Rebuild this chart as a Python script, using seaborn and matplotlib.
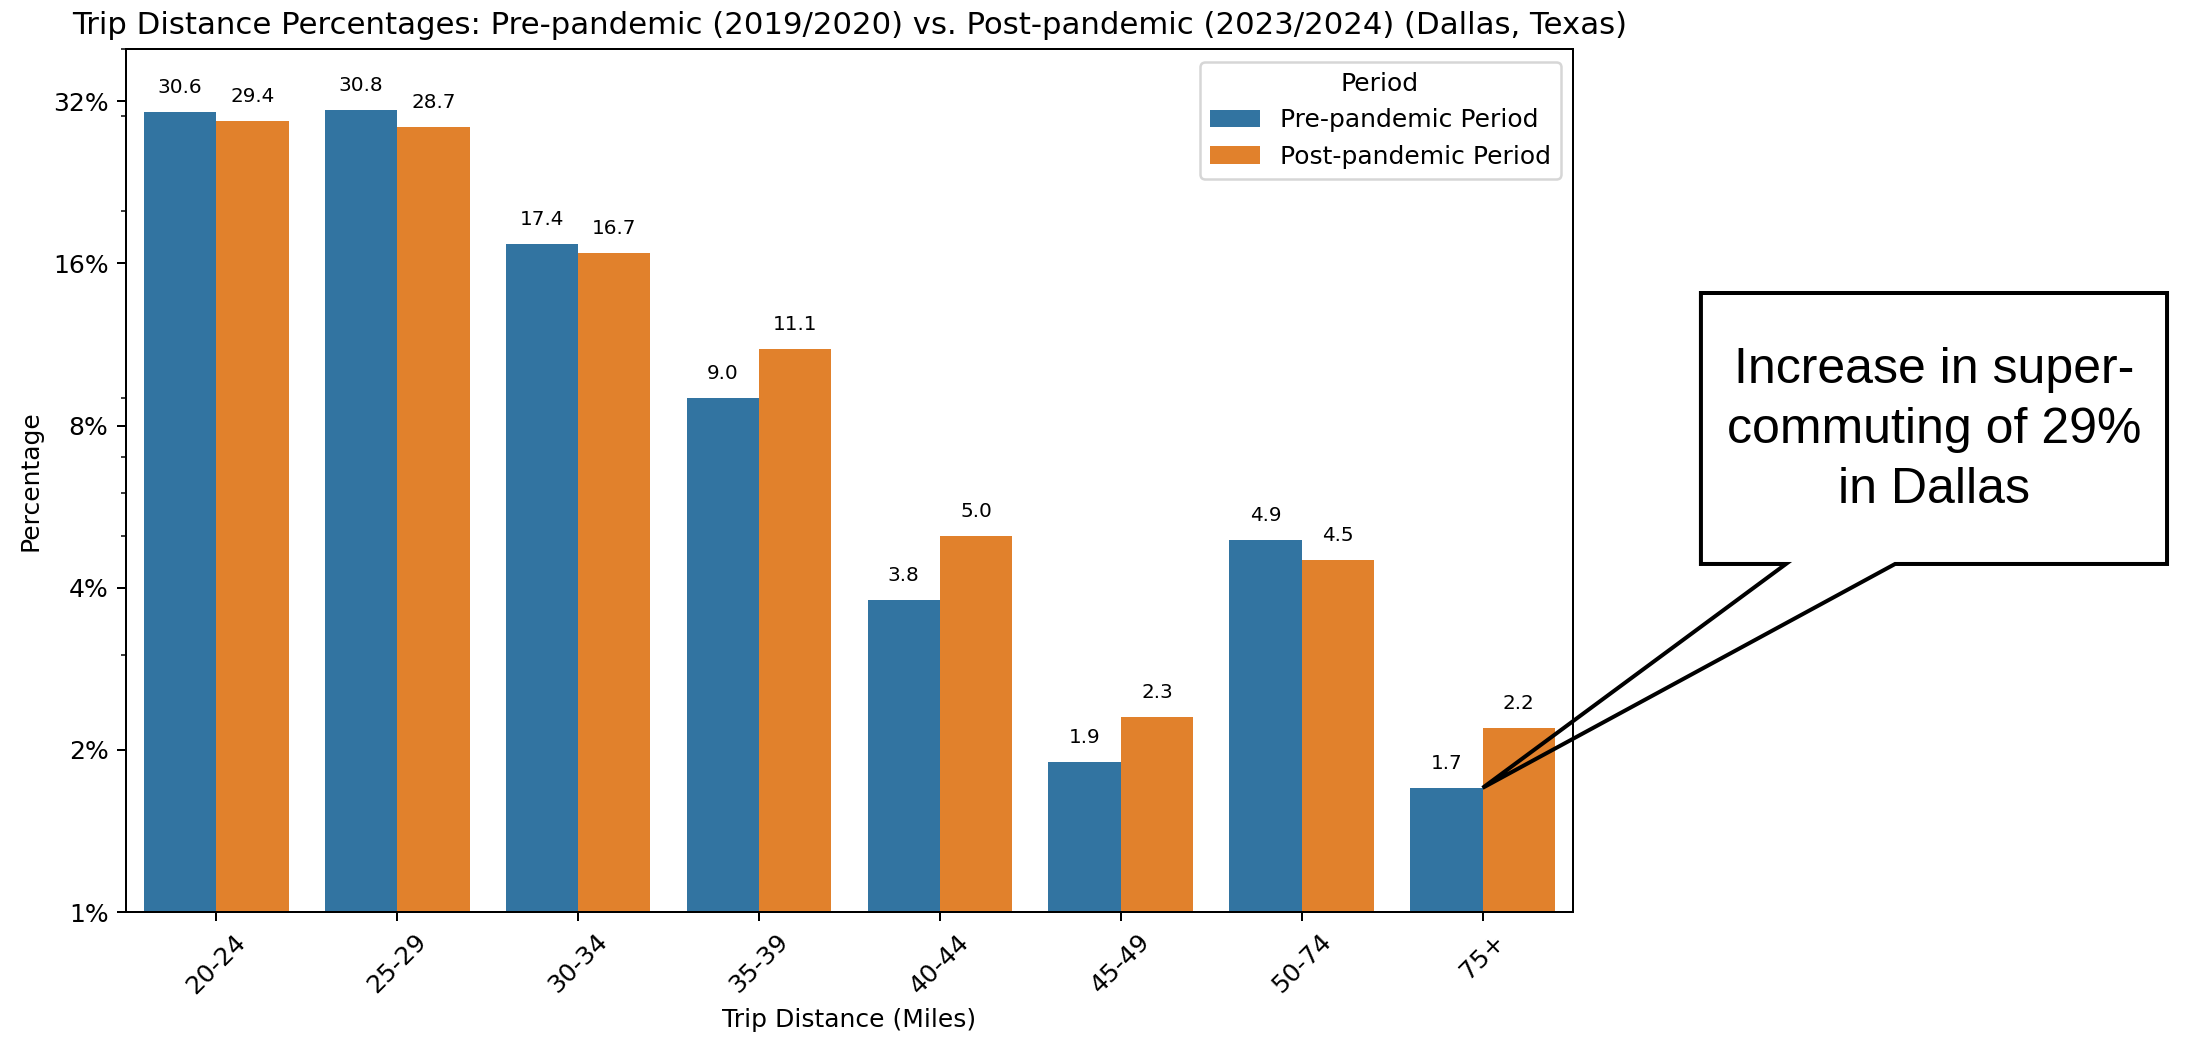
import pandas as pd
import matplotlib
matplotlib.use('Agg')
import matplotlib.pyplot as plt
import seaborn as sns
from matplotlib.patches import Polygon
from matplotlib.ticker import FixedLocator, FuncFormatter, NullFormatter

# Chart data
distance_bins = ['20-24', '25-29', '30-34', '35-39', '40-44', '45-49', '50-74', '75+']
pre_pandemic = [30.6, 30.8, 17.4, 9.0, 3.8, 1.9, 4.9, 1.7]
post_pandemic = [29.4, 28.7, 16.7, 11.1, 5.0, 2.3, 4.5, 2.2]
period_names = ['Pre-pandemic Period', 'Post-pandemic Period']
y_ticks = [1, 2, 4, 8, 16, 32]
callout_text = 'Increase in super-\ncommuting of 29%\nin Dallas'

df = pd.DataFrame({
    'Trip Distance': distance_bins * 2,
    'Percentage': pre_pandemic + post_pandemic,
    'Period': [period_names[0]] * len(distance_bins) + [period_names[1]] * len(distance_bins),
})

fig = plt.figure(figsize=(2209 / 180, 1039 / 180), dpi=180)
ax = fig.add_axes([0.0570, 0.1222, 0.6551, 0.8306])

sns.barplot(data=df, x='Trip Distance', y='Percentage', hue='Period',
            errorbar=None, ax=ax)

# Log scale with percentage ticks
ax.set_yscale('log')
ax.set_ylim(1, 40)
ax.yaxis.set_major_locator(FixedLocator(y_ticks))
ax.yaxis.set_major_formatter(FuncFormatter(lambda v, p: f'{v:g}%'))
ax.yaxis.set_minor_formatter(NullFormatter())

for container in ax.containers:
    ax.bar_label(container, fmt='%.1f', padding=6, fontsize=8)

ax.set_title('Trip Distance Percentages: Pre-pandemic (2019/2020) vs. '
             'Post-pandemic (2023/2024) (Dallas, Texas)', fontsize=12.3)
ax.set_xlabel('Trip Distance (Miles)')
ax.set_ylabel('Percentage')
plt.setp(ax.get_xticklabels(), rotation=45)
ax.legend(title='Period', loc='upper right')

# Speech-bubble callout pointing at the 75+ pre-pandemic bar
tip = fig.transFigure.inverted().transform(
    ax.transData.transform((len(distance_bins) - 1, pre_pandemic[-1])))
box_l, box_r, box_t, box_b = 0.7700, 0.9810, 0.7180, 0.4572
base_l, base_r = 0.8085, 0.8579
bubble = Polygon([(box_l, box_t), (box_r, box_t), (box_r, box_b), (base_r, box_b),
                  tuple(tip), (base_l, box_b), (box_l, box_b)],
                 closed=True, transform=fig.transFigure, fc='none', ec='black',
                 lw=1.6, joinstyle='miter', zorder=10)
fig.add_artist(bubble)
fig.text((box_l + box_r) / 2, 0.5861, callout_text, ha='center', va='center',
         multialignment='center', fontsize=20, family='Liberation Sans',
         linespacing=1.38)

fig.savefig('out.png', dpi=180)
